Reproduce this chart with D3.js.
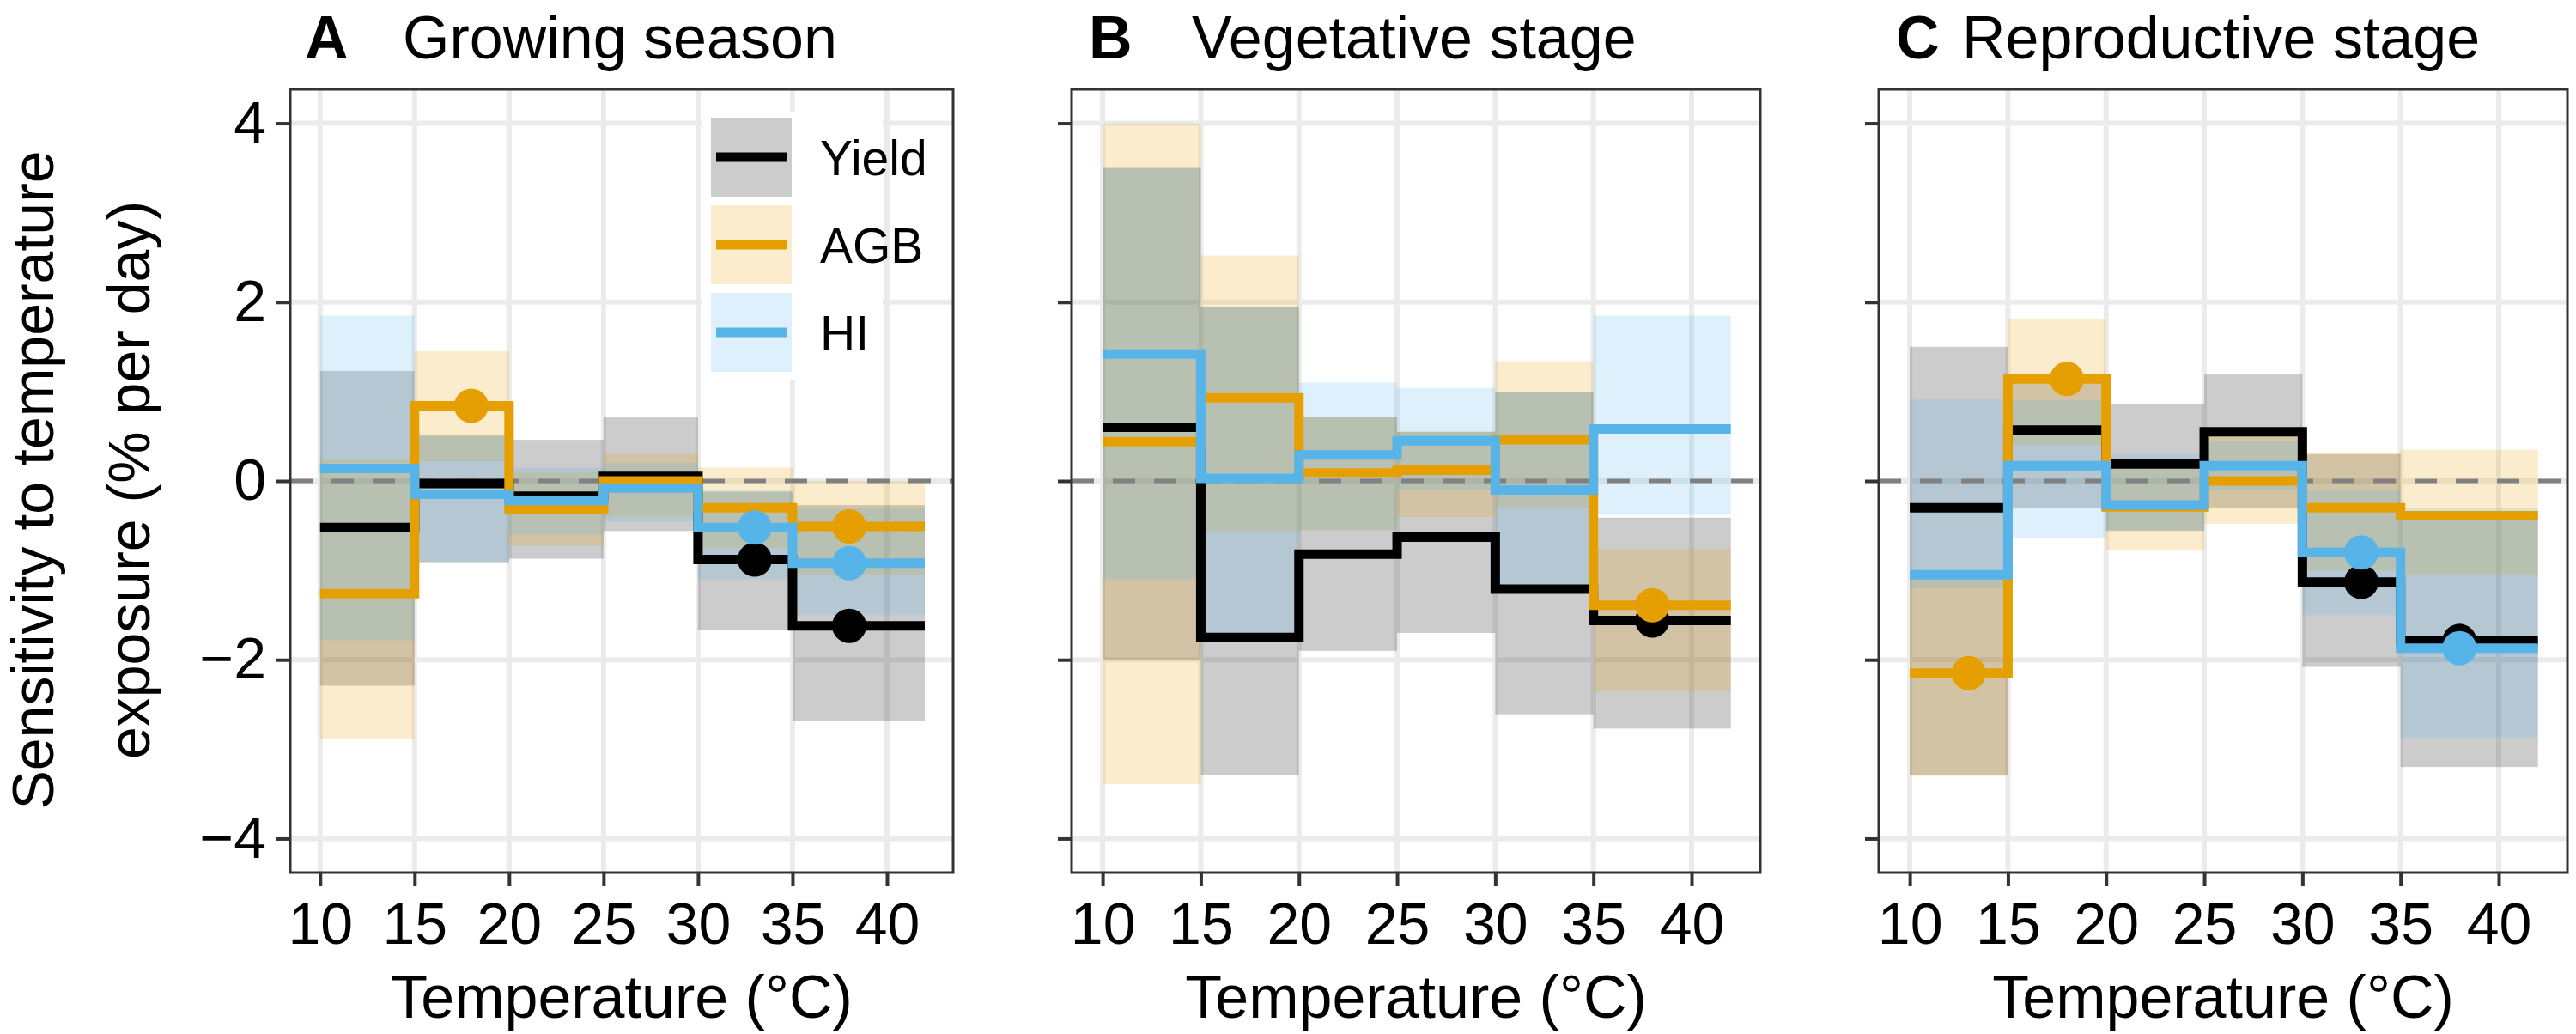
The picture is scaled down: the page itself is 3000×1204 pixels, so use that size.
<!DOCTYPE html>
<html><head><meta charset="utf-8">
<script src="https://cdn.jsdelivr.net/npm/d3@7"></script>
<style>body{margin:0;background:#fff}text{font-family:Arial,"Liberation Sans",sans-serif}</style>
</head><body><svg id="chart" width="3000" height="1204"></svg>
<script>
var edges = [10, 15, 20, 25, 30, 35, 42];
var seriesNames = ["Yield", "AGB", "HI"];
var colors = ["#000000", "#E69F00", "#56B4E9"];
var xTicks = [10, 15, 20, 25, 30, 35, 40];
var yTicks = [-4, -2, 0, 2, 4];

// panel A
var aEst = [[-0.52, -0.03, -0.17, 0.05, -0.88, -1.62],
            [-1.26, 0.84, -0.32, 0.0, -0.3, -0.51],
            [0.14, -0.15, -0.22, -0.08, -0.52, -0.92]];
var aLo = [[-2.29, -0.91, -0.87, -0.56, -1.67, -2.68],
           [-2.88, 0.22, -0.72, -0.4, -0.75, -1.05],
           [-1.78, -0.9, -0.6, -0.45, -1.1, -1.5]];
var aHi = [[1.23, 0.51, 0.46, 0.71, -0.12, -0.27],
           [0.24, 1.45, 0.1, 0.3, 0.15, 0.0],
           [1.85, 0.5, 0.15, 0.2, -0.1, -0.3]];
var aPts = [[33, 38], [18, 38], [33, 38]];
// panel B
var bEst = [[0.6, -1.75, -0.82, -0.63, -1.21, -1.56],
            [0.44, 0.93, 0.09, 0.12, 0.46, -1.39],
            [1.42, 0.03, 0.29, 0.45, -0.1, 0.58]];
var bLo = [[-2.0, -3.29, -1.9, -1.7, -2.61, -2.77],
           [-3.39, -0.56, -0.55, -0.4, -0.3, -2.35],
           [-1.1, -1.8, -0.55, -0.1, -1.2, -0.38]];
var bHi = [[3.5, 1.95, 0.72, 0.55, 0.99, -0.41],
           [4.0, 2.52, 0.72, 0.55, 1.34, -0.76],
           [3.5, 1.95, 1.1, 1.04, 0.99, 1.85]];
var bPts = [[38], [38], []];
// panel C
var cEst = [[-0.3, 0.57, 0.19, 0.55, -1.13, -1.79],
            [-2.15, 1.14, -0.29, 0.0, -0.3, -0.39],
            [-1.05, 0.17, -0.27, 0.17, -0.8, -1.87]];
var cLo = [[-3.29, -0.3, -0.56, -0.3, -2.08, -3.2],
           [-3.3, 0.4, -0.78, -0.48, -1.0, -1.05],
           [-1.2, -0.64, -0.55, -0.1, -1.5, -2.87]];
var cHi = [[1.5, 1.1, 0.86, 1.19, 0.3, -0.4],
           [-1.0, 1.81, 0.2, 0.5, 0.32, 0.35],
           [0.91, 0.9, 0.3, 0.45, -0.1, -0.3]];
var cPts = [[33, 38], [13, 18], [33, 38]];

var panels = [
  {letter: "A", lx: 355, title: "Growing season", x0: 338, w: 772, tx: 469, est: aEst, lo: aLo, hi: aHi, pts: aPts, labels: true},
  {letter: "B", lx: 1268, title: "Vegetative stage", x0: 1248, w: 802, tx: 1388, est: bEst, lo: bLo, hi: bHi, pts: bPts},
  {letter: "C", lx: 2208, title: "Reproductive stage", x0: 2188, w: 802, tx: 2285, est: cEst, lo: cLo, hi: cHi, pts: cPts}
];
var plotTop = 104, plotBottom = 1016;
var svg = d3.select("#chart");

panels.forEach(function(p){
  var x = d3.scaleLinear().domain([8.42, 43.5]).range([p.x0, p.x0 + p.w]);
  var y = d3.scaleLinear().domain([-4.38, 4.38]).range([plotBottom, plotTop]);
  var g = svg.append("g");
  xTicks.forEach(function(t){
    g.append("line").attr("x1", x(t)).attr("x2", x(t)).attr("y1", plotTop).attr("y2", plotBottom).attr("stroke", "#ebebeb").attr("stroke-width", 6);
  });
  yTicks.forEach(function(t){
    g.append("line").attr("x1", p.x0).attr("x2", p.x0 + p.w).attr("y1", y(t)).attr("y2", y(t)).attr("stroke", "#ebebeb").attr("stroke-width", 6);
  });
  // ribbons
  seriesNames.forEach(function(s, i){
    g.selectAll(null).data(d3.range(6)).enter().append("rect")
      .attr("x", function(k){ return x(edges[k]); })
      .attr("width", function(k){ return x(edges[k + 1]) - x(edges[k]); })
      .attr("y", function(k){ return y(p.hi[i][k]); })
      .attr("height", function(k){ return y(p.lo[i][k]) - y(p.hi[i][k]); })
      .attr("fill", colors[i]).attr("fill-opacity", 0.2);
  });
  g.append("line").attr("x1", p.x0).attr("x2", p.x0 + p.w).attr("y1", y(0)).attr("y2", y(0))
    .attr("stroke", "#808080").attr("stroke-width", 5).attr("stroke-dasharray", "26,22");
  var line = d3.line().x(function(d){ return x(d[0]); }).y(function(d){ return y(d[1]); }).curve(d3.curveStepAfter);
  seriesNames.forEach(function(s, i){
    var pts = edges.map(function(e, k){ return [e, p.est[i][Math.min(k, 5)]]; });
    g.append("path").attr("d", line(pts)).attr("fill", "none").attr("stroke", colors[i]).attr("stroke-width", 11);
    p.pts[i].forEach(function(t){
      var k = d3.bisectRight(edges, t) - 1;
      g.append("circle").attr("cx", x(t)).attr("cy", y(p.est[i][k])).attr("r", 20).attr("fill", colors[i]);
    });
  });
  g.append("rect").attr("x", p.x0).attr("y", plotTop).attr("width", p.w).attr("height", plotBottom - plotTop)
    .attr("fill", "none").attr("stroke", "#333").attr("stroke-width", 3);
  var xa = g.append("g").attr("transform", "translate(0," + plotBottom + ")")
    .call(d3.axisBottom(x).tickValues(xTicks).tickSize(16).tickPadding(14));
  var ya = g.append("g").attr("transform", "translate(" + p.x0 + ",0)")
    .call(d3.axisLeft(y).tickValues(yTicks).tickSize(16).tickPadding(12)
      .tickFormat(p.labels ? function(d){ return d < 0 ? "\u2212" + (-d) : d; } : ""));
  [xa, ya].forEach(function(a){
    a.select(".domain").remove();
    a.selectAll(".tick line").attr("stroke", "#333").attr("stroke-width", 4);
    a.selectAll("text").attr("font-size", 68).attr("fill", "#000").style("font-family", "Arial, Liberation Sans, sans-serif");
  });
  xa.selectAll("text").attr("dy", "0.78em");
  g.append("text").attr("x", p.lx).attr("y", 68).attr("font-size", 70).attr("font-weight", "bold").text(p.letter);
  g.append("text").attr("x", p.tx).attr("y", 68).attr("font-size", 70).text(p.title);
  g.append("text").attr("x", p.x0 + p.w / 2).attr("y", 1185).attr("text-anchor", "middle").attr("font-size", 70).text("Temperature (\u00B0C)");
});

// y title
var yt = svg.append("text").attr("transform", "translate(62,559) rotate(-90)").attr("text-anchor", "middle").attr("font-size", 68);
yt.append("tspan").attr("x", 0).attr("dy", 0).text("Sensitivity to temperature");
yt.append("tspan").attr("x", 0).attr("dy", 112).text("exposure (% per day)");

// legend
var leg = svg.append("g");
leg.append("rect").attr("x", 818).attr("y", 130).attr("width", 210).attr("height", 312).attr("fill", "#fff");
seriesNames.forEach(function(s, i){
  var ky = 137 + i * 102;
  leg.append("rect").attr("x", 828).attr("y", ky).attr("width", 94).attr("height", 92).attr("fill", colors[i]).attr("fill-opacity", 0.2);
  leg.append("line").attr("x1", 834).attr("x2", 916).attr("y1", ky + 46).attr("y2", ky + 46).attr("stroke", colors[i]).attr("stroke-width", 11);
  leg.append("text").attr("x", 955).attr("y", ky + 46).attr("dy", "0.36em").attr("font-size", 57).text(s);
});
</script></body></html>
